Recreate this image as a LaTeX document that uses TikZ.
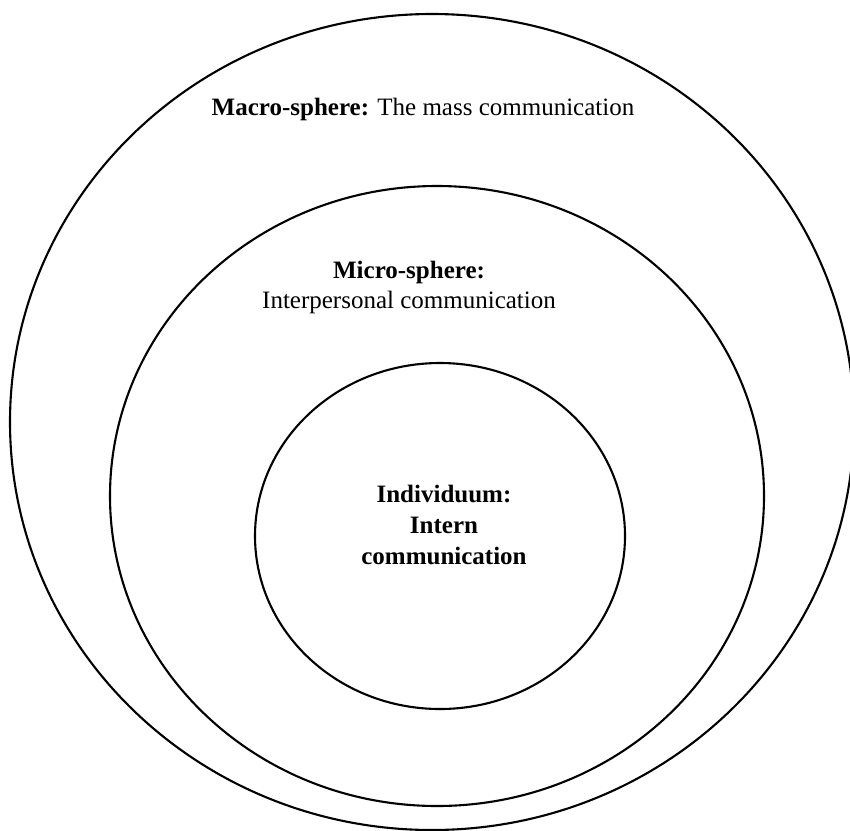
\documentclass[tikz,border=0pt]{standalone}
\usepackage{fontspec}
\setmainfont{Liberation Serif}
\begin{document}
\begin{tikzpicture}[x=1pt,y=-1pt,
    sphere/.style={draw,line width=2.1pt},
    spheretext/.style={align=center,inner sep=0pt,font=\fontsize{25}{30}\selectfont}]
  \useasboundingbox (0,0) rectangle (850,830);
  % the three spheres
  \draw[sphere] (432,422) ellipse [x radius=422, y radius=408];
  \draw[sphere] (437,496) ellipse [x radius=327, y radius=310];
  \draw[sphere] (440,536) ellipse [x radius=185, y radius=173];
  % their texts
  \node[spheretext,anchor=base] (macro) at (423,115)
    {\textbf{Macro-sphere:} The mass communication};
  \node[spheretext] (micro) at (409,287)
    {\textbf{Micro-sphere:}\\Interpersonal communication};
  \node[spheretext,font=\fontsize{25}{31}\selectfont\bfseries] (indiv) at (444,525)
    {Individuum:\\Intern\\communication};
\end{tikzpicture}
\end{document}
